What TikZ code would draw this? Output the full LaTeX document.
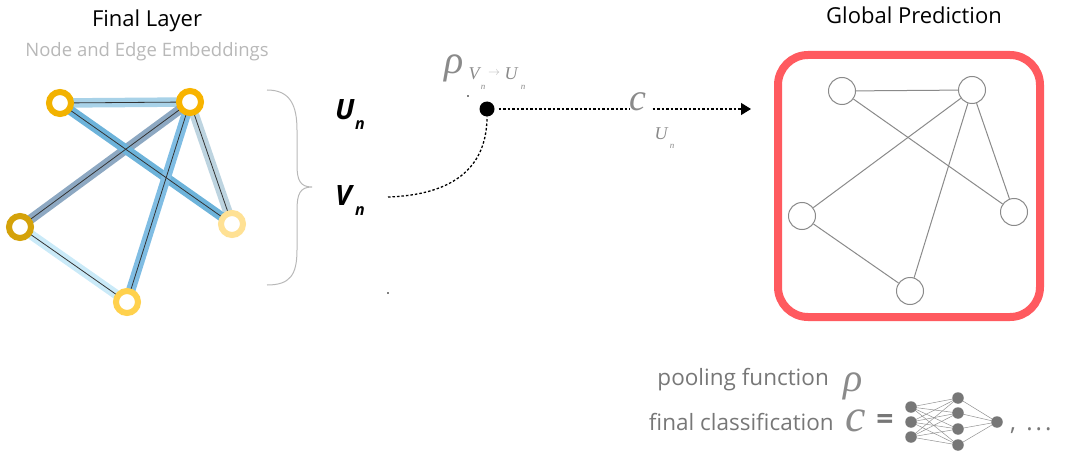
\documentclass[tikz,border=0pt]{standalone}
\usepackage{fontspec}
\setmainfont{Open Sans}
\newfontfamily\mathlike{Liberation Serif}
\usetikzlibrary{arrows.meta}
\pgfdeclarelayer{bg}
\pgfsetlayers{bg,main}
\definecolor{nA}{HTML}{F2B200}
\definecolor{nB}{HTML}{F8B400}
\definecolor{nC}{HTML}{D4A20A}
\definecolor{nD}{HTML}{FFE194}
\definecolor{nE}{HTML}{FFD14D}
\definecolor{eAB}{HTML}{A8D2E8}
\definecolor{eAD}{HTML}{6DB3DA}
\definecolor{eBC}{HTML}{8DA8C2}
\definecolor{eBD}{HTML}{BDD4E0}
\definecolor{eBE}{HTML}{80BDE3}
\definecolor{eCE}{HTML}{CAEAF8}
\definecolor{boxred}{HTML}{FF5A5F}
\definecolor{txtgray}{HTML}{777777}
\definecolor{lightgray}{HTML}{B8B8B8}
\definecolor{mathgray}{HTML}{8A8A8A}
\definecolor{edgegray}{HTML}{8A8A8A}
\tikzset{
  ring/.style={circle, line width=6pt, draw=#1, fill=white, minimum size=22pt, inner sep=0pt},
  thickedge/.style={line width=9.5pt, draw=#1},
  thinedge/.style={line width=0.8pt, draw=black!80},
  gnode/.style={circle, draw=edgegray, line width=1pt, fill=white, minimum size=27pt, inner sep=0pt},
  gedge/.style={draw=edgegray, line width=1pt},
  flow/.style={line width=1.3pt, dash pattern=on 2.5pt off 2pt},
  nnode/.style={circle, fill=txtgray, minimum size=11.5pt, inner sep=0pt},
  nnedge/.style={draw=txtgray!80, line width=0.5pt},
  sub/.style={inner sep=0pt, text=mathgray},
  msym/.style={inner sep=0pt, text=mathgray, font=\mathlike\itshape\fontsize{#1}{#1}\selectfont},
}
\begin{document}
\begin{tikzpicture}[x=1pt,y=-1pt]
\useasboundingbox (0,0) rectangle (1092,468);

% titles
\node[anchor=base, inner sep=0pt, font=\fontsize{22}{26}\selectfont] (t1) at (147,27) {Final Layer};
\node[anchor=base, inner sep=0pt, text=lightgray, font=\fontsize{18.5}{22}\selectfont] (t2) at (147,57) {Node and Edge Embeddings};
\node[anchor=base, inner sep=0pt, font=\fontsize{22}{26}\selectfont] (t3) at (914,24) {Global Prediction};

% left graph
\node[ring=nA] (A) at (60,103) {};
\node[ring=nB] (B) at (190,102) {};
\node[ring=nC] (C) at (20,227) {};
\node[ring=nD] (D) at (232,224) {};
\node[ring=nE] (E) at (127,302) {};
\begin{pgfonlayer}{bg}
\draw[thickedge=eAB] (A.center) -- (B.center);
\draw[thickedge=eBD] (B.center) -- (D.center);
\draw[thickedge=eCE] (C.center) -- (E.center);
\draw[thickedge=eBC] (B.center) -- (C.center);
\draw[thickedge=eAD] (A.center) -- (D.center);
\draw[thickedge=eBE] (B.center) -- (E.center);
\draw[thinedge] (A.center) -- (B.center);
\draw[thinedge] (B.center) -- (D.center);
\draw[thinedge] (C.center) -- (E.center);
\draw[thinedge] (B.center) -- (C.center);
\draw[thinedge] (A.center) -- (D.center);
\draw[thinedge] (B.center) -- (E.center);
\end{pgfonlayer}

% brace
\draw[lightgray, line width=1pt] (267,90) .. controls (290,90) and (297,105) .. (297,130) -- (297,165)
  .. controls (297,180) and (300,187) .. (312,187)
  .. controls (300,187) and (297,194) .. (297,210) -- (297,250)
  .. controls (297,275) and (290,285) .. (267,285);

% U_n, V_n
\node[anchor=base west, inner sep=0pt, font=\fontsize{28}{30}\selectfont\bfseries\itshape] (U) at (335,120) {U};
\node[anchor=base west, inner sep=0pt, font=\fontsize{16}{18}\selectfont\bfseries\itshape] (Un) at (355,130) {n};
\node[anchor=base west, inner sep=0pt, font=\fontsize{28}{30}\selectfont\bfseries\itshape] (V) at (335,205) {V};
\node[anchor=base west, inner sep=0pt, font=\fontsize{16}{18}\selectfont\bfseries\itshape] (Vn) at (355,215) {n};

% pooling dot and flow
\node[circle, fill=black, minimum size=15pt, inner sep=0pt] (dot) at (487,109) {};
\coordinate (vstart) at (388,197);
\draw[flow] (vstart) .. controls (450,195) and (487,170) .. (dot.south);
\node[msym=40] (rho) at (454,68) {ρ};
\node[msym=18] (rV) at (474,74) {V};
\node[msym=9] (rn1) at (483,87) {n};
\node[sub, font=\fontsize{12}{12}\selectfont, text=lightgray] (rar) at (494,73) {$\rightarrow$};
\node[msym=18] (rU) at (511,74) {U};
\node[msym=9] (rn2) at (523,87) {n};

\node[msym=38] (cc) at (638,102) {c};
\node[msym=18] (cU) at (661,134) {U};
\node[msym=9] (cn) at (672,146) {n};
\coordinate (atip) at (751,109);
\draw[flow] (dot.east) ++(4,0) -- (cc.west |- dot.east);
\draw[flow, -{Triangle[length=10pt,width=12pt]}] (cc.east |- dot.east) ++(6,0) -- (atip);

% stray dots
\fill (468,96) circle (0.8);
\fill (388,293) circle (0.8);

% global prediction box
\draw[boxred, line width=8pt, rounded corners=30pt] (778,55) rectangle (1040,317);
\node[gnode] (a) at (842,91) {};
\node[gnode] (b) at (972,90) {};
\node[gnode] (c) at (802,216) {};
\node[gnode] (d) at (1014,212) {};
\node[gnode] (e) at (910,291) {};
\draw[gedge] (a) -- (b);
\draw[gedge] (a) -- (d);
\draw[gedge] (b) -- (c);
\draw[gedge] (b) -- (d);
\draw[gedge] (b) -- (e);
\draw[gedge] (c) -- (e);

% legend
\node[anchor=base east, inner sep=0pt, text=txtgray, font=\fontsize{22.5}{26}\selectfont] (pool) at (829,385) {pooling function};
\node[msym=40] (rho2) at (853,386) {ρ};
\node[anchor=base east, inner sep=0pt, text=txtgray, font=\fontsize{22.5}{26}\selectfont] (fin) at (834,430) {final classification};
\node[msym=46] (c2) at (856,421) {c};
\node[inner sep=0pt, text=txtgray, font=\fontsize{30}{30}\selectfont\bfseries] (eq) at (885,422) {=};

\node[nnode] (p1) at (911,407) {};
\node[nnode] (p2) at (911,422) {};
\node[nnode] (p3) at (911,437) {};
\node[nnode] (q1) at (958,398) {};
\node[nnode] (q2) at (958,413) {};
\node[nnode] (q3) at (958,429) {};
\node[nnode] (q4) at (958,445) {};
\node[nnode] (o) at (997,422) {};
\begin{pgfonlayer}{bg}
\foreach \i in {1,2,3}{\foreach \j in {1,2,3,4}{\draw[nnedge] (p\i.center) -- (q\j.center);}}
\foreach \j in {1,2,3,4}{\draw[nnedge] (q\j.center) -- (o.center);}
\end{pgfonlayer}
\node[anchor=base west, inner sep=0pt, text=txtgray, font=\fontsize{24}{24}\selectfont] (etc) at (1010,430) {,\, .\kern3pt.\kern3pt.};
\end{tikzpicture}
\end{document}
